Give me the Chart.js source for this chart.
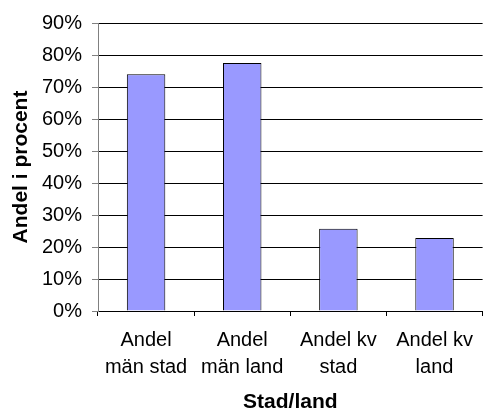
<!DOCTYPE html>
<html>
<head>
<meta charset="utf-8">
<script src="https://cdn.jsdelivr.net/npm/chart.js@4/dist/chart.umd.min.js"></script>
<style>
  body { margin: 0; background: #fff; }
  #chart { display: block; }
</style>
</head>
<body>
<canvas id="chart" width="484" height="410"></canvas>
<script>
// values
const categories = [['Andel', 'män stad'], ['Andel', 'män land'], ['Andel kv', 'stad'], ['Andel kv', 'land']];
const shares = [74, 77.5, 25.7, 22.8];
const yMax = 90;
const yStep = 10;

const font = 'Liberation Sans, Arial, Helvetica, sans-serif';

const ctx = document.getElementById('chart').getContext('2d');
const chart = new Chart(ctx, {
  type: 'bar',
  data: {
    labels: categories,
    datasets: [{
      data: shares,
      backgroundColor: '#9999ff',
      borderColor: '#000000',
      borderWidth: 1,
      barPercentage: 0.4,
      categoryPercentage: 1
    }]
  },
  options: {
    responsive: false,
    animation: false,
    layout: { padding: { top: 23, right: 1, left: 0, bottom: 0 } },
    plugins: {
      legend: { display: false },
      tooltip: { enabled: false }
    },
    scales: {
      x: {
        offset: true,
        grid: {
          offset: true,
          drawOnChartArea: false,
          drawTicks: true,
          tickLength: 5,
          color: '#000000'
        },
        border: { color: '#000000', width: 1 },
        ticks: {
          color: '#000000',
          padding: 11,
          maxRotation: 0,
          autoSkip: false,
          font: { family: font, size: 20, lineHeight: 1.35 }
        },
        title: {
          display: true,
          text: 'Stad/land',
          color: '#000000',
          padding: { top: 0, bottom: 0 },
          font: { family: font, size: 21, weight: 'bold', lineHeight: 0.7 }
        },
        afterFit: (scale) => { scale.height = 99; }
      },
      y: {
        min: 0,
        max: yMax,
        grid: {
          color: '#000000',
          drawTicks: true,
          tickLength: 6,
          tickColor: '#808080'
        },
        border: { color: '#808080', width: 1 },
        ticks: {
          stepSize: yStep,
          color: '#000000',
          padding: 10,
          font: { family: font, size: 20 },
          callback: (v) => v + '%'
        },
        title: {
          display: true,
          text: 'Andel i procent',
          color: '#000000',
          padding: { top: 9, bottom: 0 },
          font: { family: font, size: 21, weight: 'bold' }
        },
        afterFit: (scale) => { scale.width = 98; }
      }
    }
  }
});
</script>
</body>
</html>
